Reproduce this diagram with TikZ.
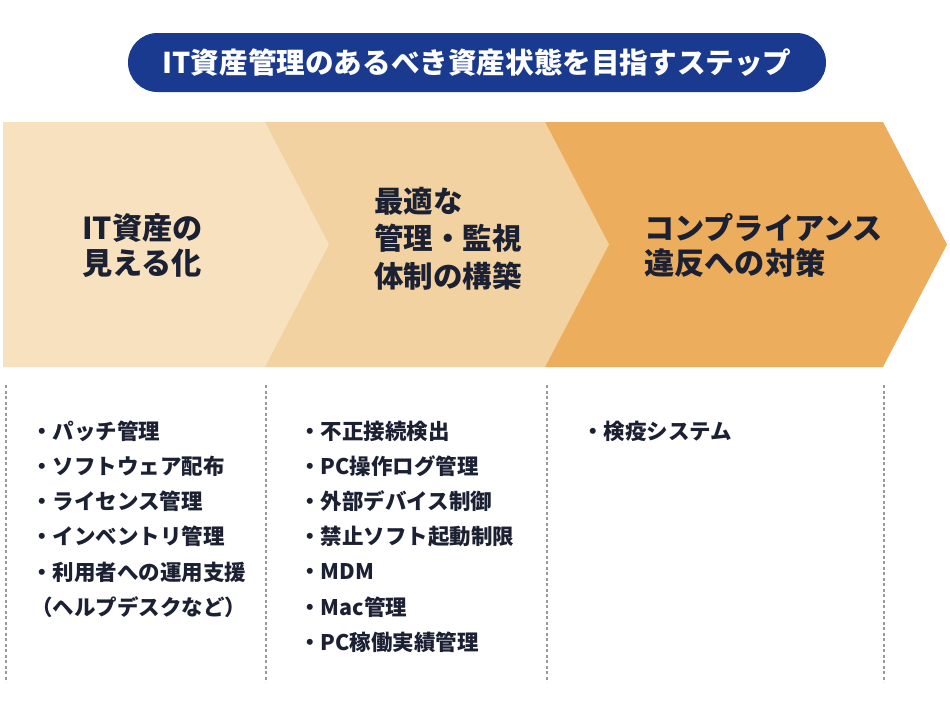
\documentclass[tikz,border=0pt]{standalone}
\usepackage{fontspec}
\setmainfont{Noto Sans CJK JP}
\usepackage{tikz}
\usetikzlibrary{positioning}
\definecolor{pillblue}{HTML}{1A3A8F}
\definecolor{inkdark}{HTML}{1B2033}
\definecolor{stepA}{HTML}{F7E1BE}
\definecolor{stepB}{HTML}{F2D2A0}
\definecolor{stepC}{HTML}{ECAE5C}
\definecolor{sepgray}{HTML}{9A9A9A}
\tikzset{titlepill/.style={fill=pillblue,text=white,rounded corners=29.5pt,minimum width=698pt,minimum height=59pt,inner sep=0pt,font=\bfseries\fontsize{28.6}{34}\selectfont}}
\tikzset{heading/.style={anchor=west,align=left,inner sep=0pt,text=inkdark,font=\bfseries\fontsize{30.2}{35}\selectfont}}
\tikzset{itemlist/.style={anchor=north west,align=left,inner sep=0pt,text=inkdark,font=\bfseries\fontsize{21.5}{35.2}\selectfont}}
\tikzset{sepline/.style={sepgray,line width=1.2pt,dash pattern=on 3pt off 2.5pt}}

\begin{document}
\begin{tikzpicture}[x=1pt,y=-1pt]
\useasboundingbox (0,0) rectangle (950,713);
% title
\node[titlepill] (title) at (477,62.5) {IT資産管理のあるべき資産状態を目指すステップ};
% chevrons, back to front
\foreach \xa/\xb/\col in {545/883/stepC,265/545/stepB,3/265/stepA}
    \fill[\col] (\xa,122) -- (\xb,122) -- (\xb+64,244.5) -- (\xb,367) -- (\xa,367) -- cycle;
\node[heading] (see) at (82,245.5) {IT資産の\\見える化};
\node[heading,font=\bfseries\fontsize{29.5}{37.5}\selectfont] (build) at (374,238.5) {最適な\\管理・監視\\体制の構築};
\node[heading] (comply) at (644,245) {コンプライアンス\\違反への対策};
% separators
\foreach \x in {6,266,547,884}
    \draw[sepline] (\x,385) -- (\x,682);
% lists
\node[itemlist] (listA) at (31,420.5) {・パッチ管理\\・ソフトウェア配布\\・ライセンス管理\\・インベントリ管理\\・利用者への運用支援\\（ヘルプデスクなど）};
\node[itemlist] (listB) at (299,420.5) {・不正接続検出\\・PC操作ログ管理\\・外部デバイス制御\\・禁止ソフト起動制限\\・MDM\\・Mac管理\\・PC稼働実績管理};
\node[itemlist] (listC) at (582,420.5) {・検疫システム};
\end{tikzpicture}
\end{document}
